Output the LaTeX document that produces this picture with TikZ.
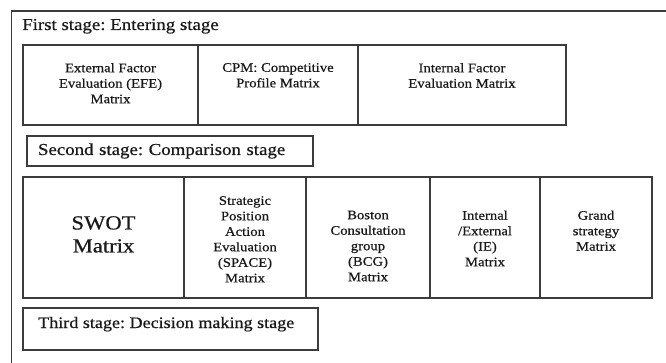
\documentclass[tikz,border=0pt]{standalone}
\usepackage{fontspec}
\setmainfont{Liberation Serif}[FakeStretch=1.13, FakeBold=0.6]
\usetikzlibrary{positioning}
\definecolor{mline}{RGB}{60,60,60}
\definecolor{mtext}{RGB}{25,25,25}
\frenchspacing

\begin{document}
\begin{tikzpicture}[x=1pt, y=-1pt,
    panel/.style={draw=mline, line width=1.2pt, outer sep=0pt, inner sep=0pt},
    rowone/.style={panel, minimum height=80pt},
    rowtwo/.style={panel, minimum height=121pt},
    boxtext/.style={align=center, inner sep=0pt, text=mtext, font=\fontsize{13}{15.5}\selectfont},
    bigtext/.style={align=center, inner sep=0pt, text=mtext, font=\fontsize{20}{23}\selectfont},
    stagetext/.style={inner sep=0pt, text=mtext, font=\fontsize{16.7}{19}\selectfont},
]
\useasboundingbox (0,0) rectangle (666,363);

% outer frame, cut by the page edge
\draw[mline, line width=1.4pt] (11.5,363) |- (666,11);
\node[stagetext, anchor=base west] (stage1) at (22,30) {First stage: Entering stage};

% first stage
\node[rowone, minimum width=175pt, anchor=north west] (efe) at (23,45) {};
\node[rowone, minimum width=160pt, right=0pt of efe] (cpm) {};
\node[rowone, minimum width=208pt, right=0pt of cpm] (ife) {};
\node[boxtext, below=18pt of efe.north] (efe-t) {External Factor\\Evaluation (EFE)\\Matrix};
\node[boxtext, below=18pt of cpm.north] (cpm-t) {CPM: Competitive\\Profile Matrix};
\node[boxtext, below=18pt of ife.north] (ife-t) {Internal Factor\\Evaluation Matrix};

% second stage
\node[panel, stagetext, minimum height=30pt, text width=264pt, inner xsep=11pt, align=left, anchor=north west] (stage2) at (27,136) {Second stage: Comparison stage};

\node[rowtwo, minimum width=161pt, anchor=north west] (swot) at (23,177) {};
\node[rowtwo, minimum width=122pt, right=0pt of swot] (space) {};
\node[rowtwo, minimum width=124pt, right=0pt of space] (bcg) {};
\node[rowtwo, minimum width=110pt, right=0pt of bcg] (ie) {};
\node[rowtwo, minimum width=112pt, right=0pt of ie] (grand) {};
\node[bigtext, below=39pt of swot.north] (swot-t) {SWOT\\Matrix};
\node[boxtext, below=19pt of space.north] (space-t) {Strategic\\Position\\Action\\Evaluation\\(SPACE)\\Matrix};
\node[boxtext, below=33.5pt of bcg.north] (bcg-t) {Boston\\Consultation\\group\\(BCG)\\Matrix};
\node[boxtext, below=33.5pt of ie.north] (ie-t) {Internal\\/External\\(IE)\\Matrix};
\node[boxtext, below=33.5pt of grand.north] (grand-t) {Grand\\strategy\\Matrix};

% third stage
\node[panel, minimum width=295pt, minimum height=42pt, anchor=north west] (stage3box) at (23,308) {};
\node[stagetext, font=\fontsize{16}{19}\selectfont, anchor=base west] (stage3) at ([xshift=15pt, yshift=-20pt]stage3box.north west) {Third stage: Decision making stage};

\end{tikzpicture}
\end{document}
